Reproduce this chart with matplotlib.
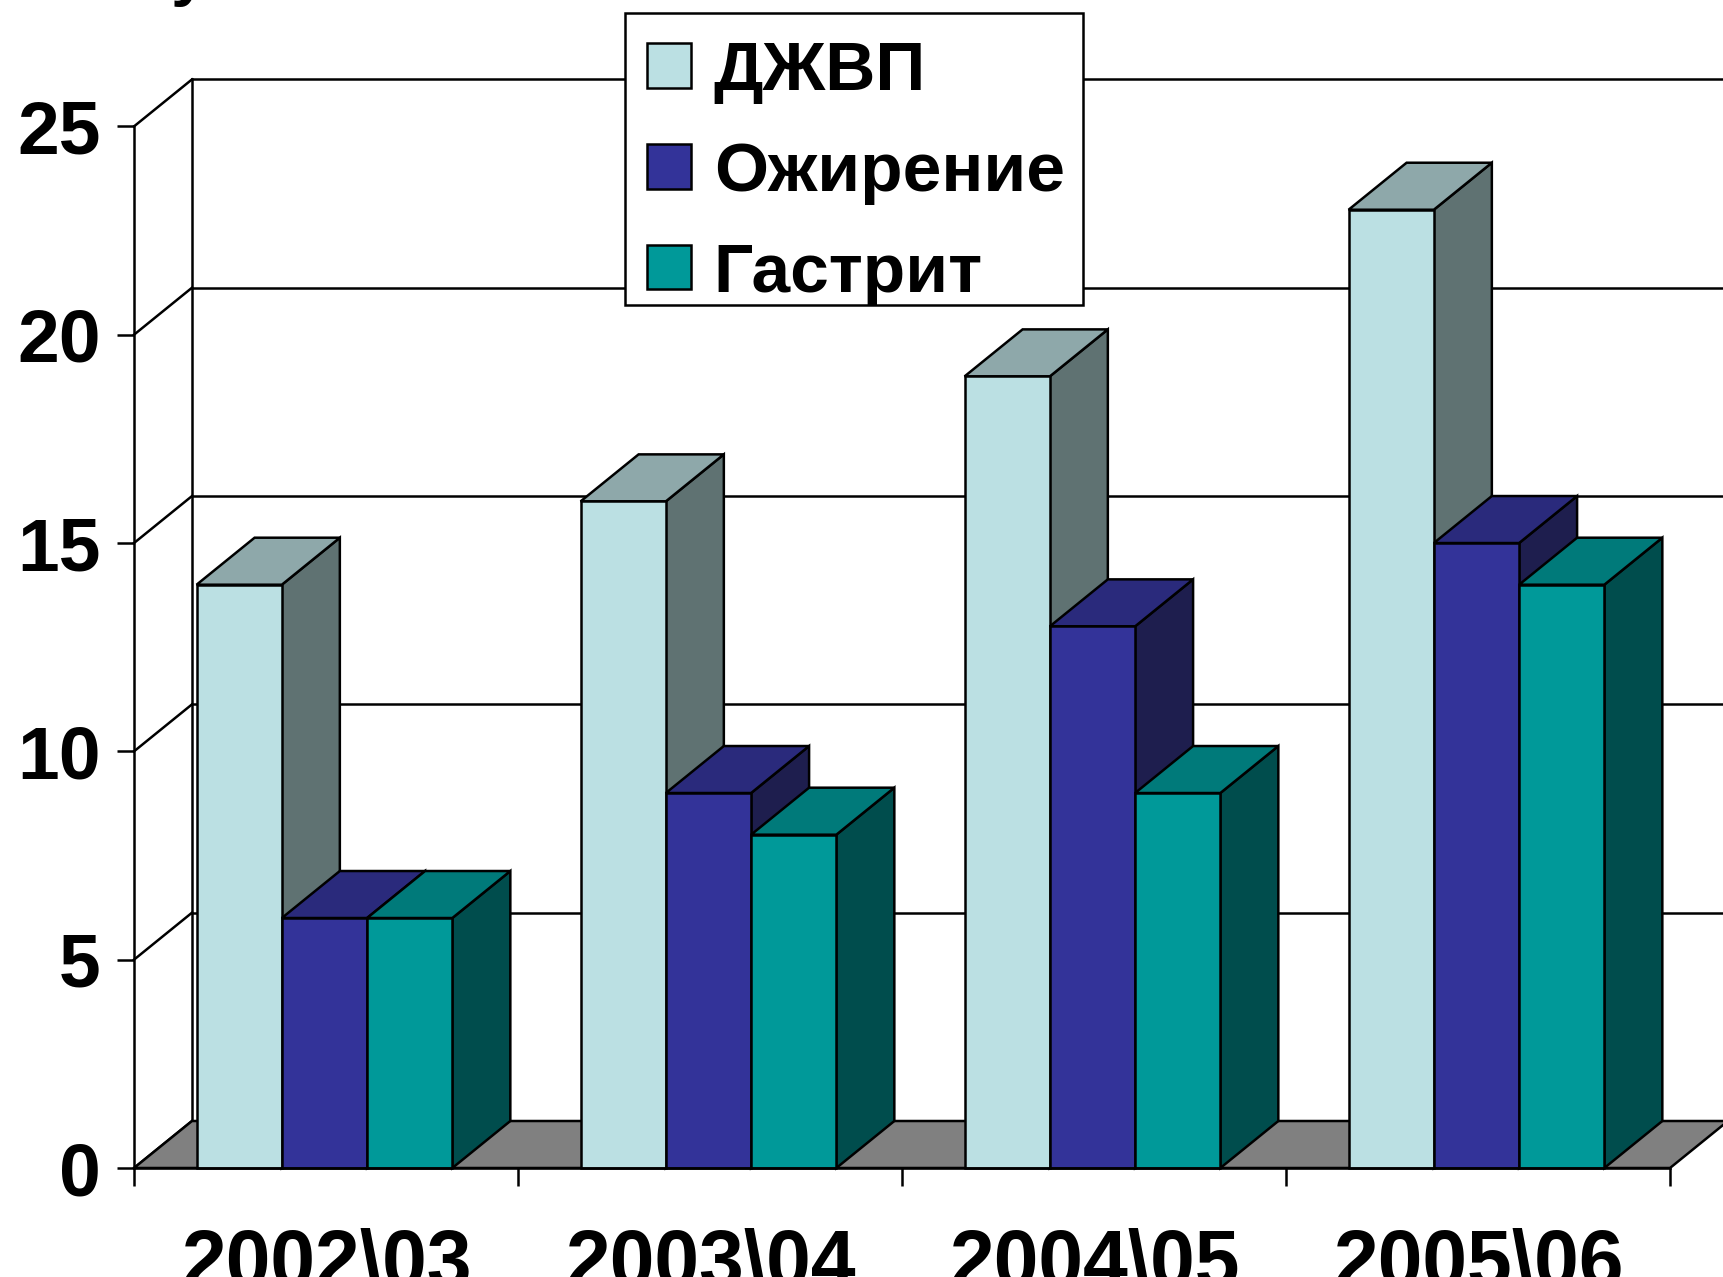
import matplotlib
matplotlib.use('Agg')
import matplotlib.pyplot as plt
from matplotlib.patches import Patch, Rectangle

# ---- data ----
categories = ['2002\\03', '2003\\04', '2004\\05', '2005\\06']
series_names = ['ДЖВП', 'Ожирение', 'Гастрит']
djvp = [14, 16, 19, 23]
ozhirenie = [6, 9, 13, 15]
gastrit = [6, 8, 9, 14]
y_ticks = [0, 5, 10, 15, 20, 25]

front_colors = ['#BBE0E3', '#333399', '#009999']
top_colors = ['#8EA8AA', '#2A2A7C', '#007A7A']
side_colors = ['#5F7272', '#1E1E4E', '#004D4D']

plt.rcParams['font.family'] = ['Liberation Sans', 'DejaVu Sans']
plt.rcParams['font.weight'] = 'bold'

W, H = 1723, 1277
fig = plt.figure(figsize=(W / 100, H / 100), dpi=100)
x0_px, x4_px = 134, 1670
y0_px, y25_px = 1168, 126.4
ax = fig.add_axes([x0_px / W, (H - y0_px) / H, (x4_px - x0_px) / W, (y0_px - y25_px) / H])
ax.set_xlim(0, 4)
ax.set_ylim(0, 25)
ax.patch.set_visible(False)

px_per_cat = (x4_px - x0_px) / 4
px_per_val = (y0_px - y25_px) / 25
DX = 58 / px_per_cat
DY = 47 / px_per_val
LW = 1.8
OFFSET = 0.163
BW = 0.222

# back wall gridlines, side-wall diagonals
for v in y_ticks:
    ax.plot([DX, 4 + DX], [v + DY, v + DY], color='black', lw=LW, clip_on=False, zorder=1)
    ax.plot([0, DX], [v, v + DY], color='black', lw=LW, clip_on=False, zorder=1)
ax.plot([DX, DX], [DY, 25 + DY], color='black', lw=LW, clip_on=False, zorder=1)

# floor
ax.fill([0, 4, 4 + DX, DX], [0, 0, DY, DY], facecolor='#808080', edgecolor='black',
        lw=LW, clip_on=False, zorder=2)


def bar3d(x, w, v, j, z):
    ax.fill([x + w, x + w + DX, x + w + DX, x + w], [0, DY, v + DY, v],
            facecolor=side_colors[j], edgecolor='black', lw=LW, clip_on=False, zorder=z)
    ax.fill([x, x + w, x + w + DX, x + DX], [v, v, v + DY, v + DY],
            facecolor=top_colors[j], edgecolor='black', lw=LW, clip_on=False, zorder=z)
    ax.fill([x, x + w, x + w, x], [0, 0, v, v],
            facecolor=front_colors[j], edgecolor='black', lw=LW, clip_on=False, zorder=z)


all_series = [djvp, ozhirenie, gastrit]
z = 3
for i in range(len(categories)):
    for j, s in enumerate(all_series):
        bar3d(i + OFFSET + j * BW, BW, s[i], j, z)
        z += 0.01

# axes / ticks
for side in ['top', 'right']:
    ax.spines[side].set_visible(False)
for side in ['left', 'bottom']:
    ax.spines[side].set_linewidth(LW)
    ax.spines[side].set_zorder(10)
ax.set_yticks(y_ticks)
ax.set_yticklabels([str(t) for t in y_ticks])
ax.tick_params(axis='y', direction='out', length=12, width=LW, pad=12, labelsize=54)
ax.set_xticks([0, 1, 2, 3, 4])
ax.set_xticklabels([])
ax.set_xticks([0.5, 1.5, 2.5, 3.5], minor=True)
ax.set_xticklabels(categories, minor=True)
ax.tick_params(axis='x', which='major', direction='out', length=13, width=LW)
ax.tick_params(axis='x', which='minor', length=0, pad=43, labelsize=58)

# legend frame (drawn in figure pixels) and legend entries
frame = Rectangle((625 / W, 1 - 305 / H), (1083 - 625) / W, (305 - 13) / H,
                  transform=fig.transFigure, facecolor='white', edgecolor='black',
                  lw=LW, zorder=15)
fig.add_artist(frame)
handles = [Patch(facecolor=c, edgecolor='black', lw=LW) for c in front_colors]
leg = fig.legend(handles, series_names, loc='upper left',
                 bbox_to_anchor=(647 / W, 1 - 40 / H), borderaxespad=0,
                 fontsize=50, handlelength=0.64, handleheight=0.61,
                 handletextpad=0.32, labelspacing=0.53, borderpad=0,
                 frameon=False)
leg.set_zorder(20)

# cut-off title fragment at the top edge
fig.text(170 / W, 1 + 7 / H, 'у', fontsize=48, fontweight='bold', va='baseline', ha='left')

fig.savefig('out.png', dpi=100)
